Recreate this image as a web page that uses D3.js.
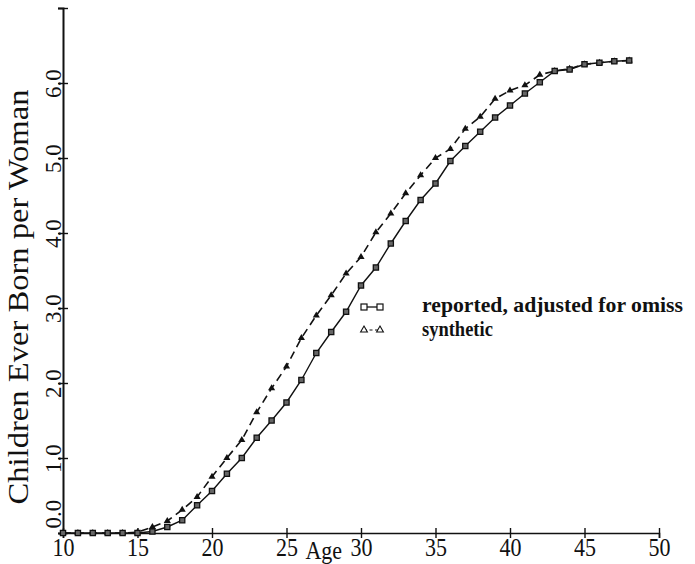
<!DOCTYPE html>
<html><head><meta charset="utf-8">
<script src="https://cdn.jsdelivr.net/npm/d3@7"></script>
<style>body{margin:0;background:#fff}</style></head>
<body><svg id="c" width="695" height="564"></svg>
<script>
const ages = [10,11,12,13,14,15,16,17,18,19,20,21,22,23,24,25,26,27,28,29,30,31,32,33,34,35,36,37,38,39,40,41,42,43,44,45,46,47,48];
const reported = [0,0,0,0,0,0,0.02,0.08,0.17,0.37,0.56,0.79,1.00,1.27,1.50,1.74,2.04,2.40,2.68,2.95,3.30,3.54,3.86,4.16,4.44,4.66,4.96,5.16,5.35,5.54,5.70,5.86,6.01,6.16,6.18,6.25,6.27,6.29,6.30];
const synthetic = [0,0,0,0,0,0.01,0.08,0.16,0.31,0.48,0.75,1.00,1.24,1.61,1.93,2.22,2.60,2.90,3.17,3.46,3.68,4.01,4.26,4.53,4.77,5.00,5.12,5.39,5.55,5.79,5.90,5.97,6.11,6.16,6.19,6.25,6.27,6.29,6.30];
const xTicks = [10,15,20,25,30,35,40,45,50];
const yTicks = [0,1,2,3,4,5,6,7];
const yTickLabels = ["0.0","1.0","2.0","3.0","4.0","5.0","6.0",""];
const legendLabels = ["reported, adjusted for omiss","synthetic"];
const xTitle = "Age";
const yTitle = "Children Ever Born per Woman";

const ink = "#111";
const serif = "'Liberation Serif','Times New Roman',serif";
const svg = d3.select("#c");
const x = d3.scaleLinear().domain([10,50]).range([63,659]);
const y = d3.scaleLinear().domain([0,7]).range([533,8]);

// X axis
const gx = svg.append("g").attr("transform",`translate(0,${y(0)})`)
  .call(d3.axisBottom(x).tickValues(xTicks).tickSizeOuter(0).tickSize(5).tickFormat(d3.format("d")));
gx.select(".domain").attr("stroke",ink).attr("stroke-width",1.6);
gx.selectAll(".tick line").attr("y1",-5).attr("y2",5).attr("stroke",ink).attr("stroke-width",1.4);
gx.selectAll(".tick text").attr("y",null).attr("dy",null)
  .attr("transform","translate(0,23) scale(1,1.15)")
  .attr("font-family",serif).attr("font-size",22).attr("fill",ink);

// Y axis
const gy = svg.append("g").attr("transform",`translate(${x(10)},0)`)
  .call(d3.axisLeft(y).tickValues(yTicks).tickSizeOuter(0).tickSize(5).tickFormat((d,i)=>yTickLabels[i]));
gy.select(".domain").attr("stroke",ink).attr("stroke-width",2);
gy.selectAll(".tick line").attr("x1",-5).attr("x2",5).attr("stroke",ink).attr("stroke-width",1.4);
gy.selectAll(".tick text").attr("x",null).attr("dy",null)
  .attr("text-anchor",d=>d===0?"start":"middle")
  .attr("transform",d=>`translate(-2,${d===0?-5:0}) rotate(-90)`)
  .attr("font-family",serif).attr("font-size",23).attr("fill",ink);

// Titles
svg.append("text").attr("transform",`translate(${(x(25)+x(30))/2},559) scale(1,1.15)`)
  .attr("text-anchor","middle").attr("font-family",serif).attr("font-size",22).attr("fill",ink).text(xTitle);
svg.append("text").attr("transform","translate(28,297) rotate(-90)")
  .attr("text-anchor","middle").attr("font-family",serif).attr("font-size",30).attr("fill",ink)
  .attr("textLength",415).attr("lengthAdjust","spacingAndGlyphs").text(yTitle);

// Lines
const rep = ages.map((a,i)=>({age:a,v:reported[i]}));
const syn = ages.map((a,i)=>({age:a,v:synthetic[i]}));
const line = d3.line().x(d=>x(d.age)).y(d=>y(d.v));
svg.append("path").datum(syn).attr("d",line).attr("fill","none").attr("stroke",ink)
  .attr("stroke-width",1.6).attr("stroke-dasharray","8,5");
svg.append("path").datum(rep).attr("d",line).attr("fill","none").attr("stroke",ink).attr("stroke-width",1.4);

const tri = d3.symbol(d3.symbolTriangle).size(22);
svg.append("g").selectAll("path").data(syn).join("path")
  .attr("d",tri).attr("transform",d=>`translate(${x(d.age)},${y(d.v)})`).attr("fill",ink);
svg.append("g").selectAll("rect").data(rep).join("rect")
  .attr("x",d=>x(d.age)-2.6).attr("y",d=>y(d.v)-2.6).attr("width",5.2).attr("height",5.2)
  .attr("fill","#666").attr("stroke",ink).attr("stroke-width",1.3);

// Legend
const lg = svg.append("g");
lg.append("line").attr("x1",364).attr("x2",380).attr("y1",307).attr("y2",307).attr("stroke",ink).attr("stroke-width",1.3);
[364,380].forEach(px=>lg.append("rect").attr("x",px-3).attr("y",304).attr("width",6).attr("height",6).attr("fill","#fff").attr("stroke",ink).attr("stroke-width",1.2));
lg.append("line").attr("x1",364).attr("x2",380).attr("y1",330).attr("y2",330).attr("stroke",ink).attr("stroke-width",1.2).attr("stroke-dasharray","3,2.5");
[364,380].forEach(px=>lg.append("path").attr("d",d3.symbol(d3.symbolTriangle).size(20)).attr("transform",`translate(${px},330)`).attr("fill","#fff").attr("stroke",ink).attr("stroke-width",1.1));
lg.append("text").attr("transform","translate(422,312) scale(1,1.12)").attr("font-family",serif).attr("font-weight","bold")
  .attr("font-size",18.5).attr("fill",ink).attr("textLength",261).attr("lengthAdjust","spacingAndGlyphs").text(legendLabels[0]);
lg.append("text").attr("transform","translate(422,336) scale(1,1.12)").attr("font-family",serif).attr("font-weight","bold")
  .attr("font-size",18.5).attr("fill",ink).text(legendLabels[1]);
</script></body></html>
